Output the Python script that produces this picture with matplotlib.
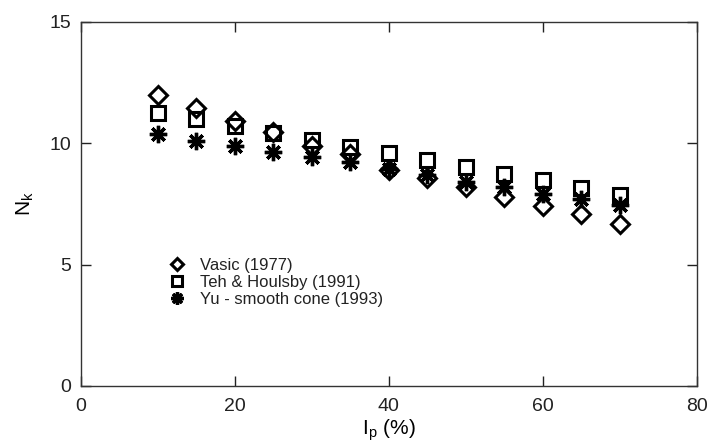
import matplotlib.pyplot as plt

plt.rcParams['font.family'] = ['Liberation Sans', 'DejaVu Sans']

ip = [10, 15, 20, 25, 30, 35, 40, 45, 50, 55, 60, 65, 70]
vasic = [12.0, 11.45, 10.9, 10.45, 9.9, 9.55, 8.9, 8.55, 8.2, 7.8, 7.4, 7.07, 6.68]
teh = [11.25, 11.0, 10.7, 10.43, 10.12, 9.85, 9.62, 9.3, 9.02, 8.74, 8.47, 8.15, 7.85]
yu = [10.4, 10.1, 9.88, 9.64, 9.43, 9.23, 8.95, 8.68, 8.42, 8.19, 7.92, 7.69, 7.44]

fig = plt.figure(figsize=(7.14, 4.48), dpi=100)
ax = fig.add_axes([0.1134, 0.1384, 0.8626, 0.8126])

ax.plot(ip, vasic, linestyle='none', marker='D', markersize=9, mfc='none',
        mec='black', mew=2.2, label='Vasic (1977)')
ax.plot(ip, teh, linestyle='none', marker='s', markersize=10.5, mfc='none',
        mec='black', mew=2.2, label='Teh & Houlsby (1991)')
ax.plot(ip, yu, linestyle='none', marker=(8, 2, 0), markersize=12.5, mfc='none',
        mec='black', mew=2.4, label='Yu - smooth cone (1993)')

ax.set_xlim(0, 80)
ax.set_ylim(0, 15)
ax.set_xticks([0, 20, 40, 60, 80])
ax.set_yticks([0, 5, 10, 15])
ax.tick_params(direction='in', length=7, width=1, top=True, right=True,
               labelsize=14, colors='#222222')
ax.tick_params(axis='x', pad=9)
ax.tick_params(axis='y', pad=7)
for s in ax.spines.values():
    s.set_linewidth(1)
    s.set_color('#333333')

ax.set_xlabel('I$_\\mathregular{p}$ (%)', fontsize=15, labelpad=1)
ax.set_ylabel('N$_\\mathregular{k}$', fontsize=15, labelpad=10)

ax.legend(loc='lower left', bbox_to_anchor=(0.105, 0.175), frameon=False,
          fontsize=12, handletextpad=0.35, labelspacing=0.12, markerscale=0.72,
          labelcolor='#222222')

fig.savefig('out.png', dpi=100)
